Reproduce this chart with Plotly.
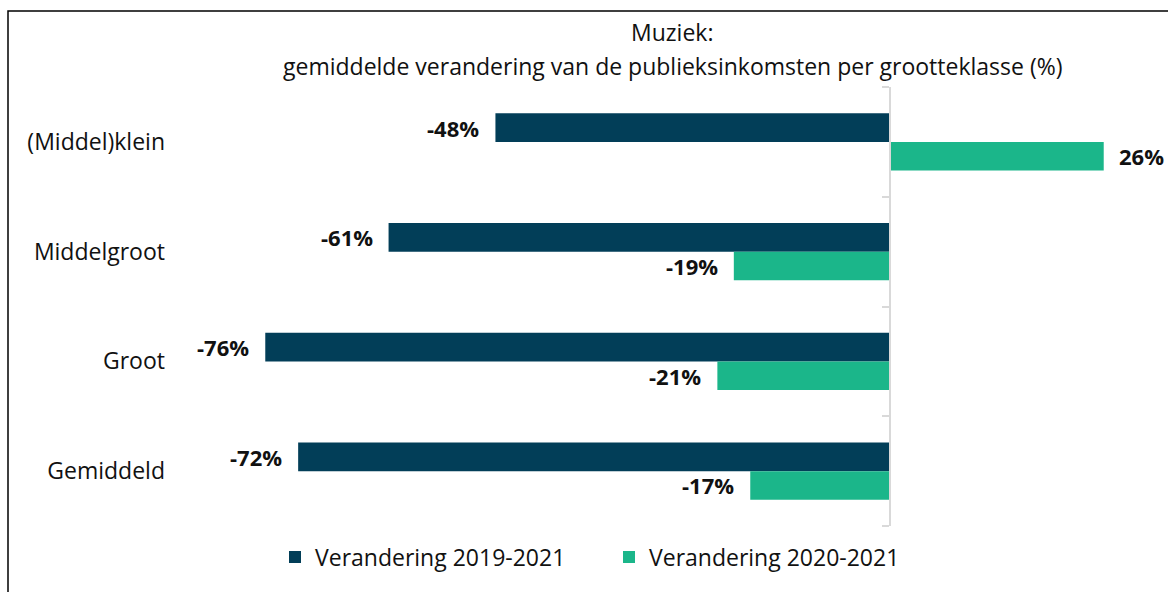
import plotly.graph_objects as go

# Size classes (top to bottom) and the two change series, in %
categories = ["(Middel)klein", "Middelgroot", "Groot", "Gemiddeld"]
change_2019_2021 = [-48, -61, -76, -72]
change_2020_2021 = [26, -19, -21, -17]
series_names = ["Verandering 2019-2021", "Verandering 2020-2021"]
title_lines = ["Muziek:", "gemiddelde verandering van de publieksinkomsten per grootteklasse (%)"]

NAVY = "#023E58"
GREEN = "#1BB68A"
AXIS_GREY = "#D9D9D9"
TEXT = "#111111"
FONT = "Open Sans"

W, H = 1168, 592
M_L, M_R, M_T, M_B = 176, 0, 87, 66
X_RANGE = [-86.86, 33.82]

fig = go.Figure()
for name, vals, color in [
    (series_names[0], change_2019_2021, NAVY),
    (series_names[1], change_2020_2021, GREEN),
]:
    fig.add_trace(go.Bar(
        y=categories, x=vals, name=name, orientation="h",
        marker=dict(color=color, line=dict(width=0)),
        hoverinfo="x+y",
    ))

# value labels just beyond the end of each bar
plot_h = H - M_T - M_B
bar_px = plot_h / len(categories) * (1 - 0.48) / 2
annotations = []
for vals, shift in [(change_2019_2021, bar_px / 2), (change_2020_2021, -bar_px / 2)]:
    for cat, v in zip(categories, vals):
        annotations.append(dict(
            x=v, y=cat, xref="x", yref="y", text=f"<b>{v}%</b>", showarrow=False,
            xanchor="right" if v < 0 else "left", xshift=-14 if v < 0 else 13,
            yshift=shift, yanchor="middle",
            font=dict(family=FONT, size=22, color=TEXT),
        ))

# two-line heading
for txt, ypix in [(title_lines[0], 32), (title_lines[1], 66)]:
    annotations.append(dict(
        x=0.5, y=(H - M_B - ypix) / plot_h, xref="paper", yref="paper",
        text=txt, showarrow=False, xanchor="center", yanchor="middle",
        font=dict(family=FONT, size=23, color=TEXT),
    ))

plot_w = W - M_L - M_R
zero_frac = (0 - X_RANGE[0]) / (X_RANGE[1] - X_RANGE[0])

fig.update_layout(
    width=W, height=H,
    margin=dict(l=M_L, r=M_R, t=M_T, b=M_B),
    paper_bgcolor="white", plot_bgcolor="white",
    barmode="group", bargap=0.48, bargroupgap=0,
    font=dict(family=FONT, size=23, color=TEXT),
    showlegend=True,
    legend=dict(
        orientation="h", x=(295 - 20 - M_L) / plot_w, y=-0.0706,
        xanchor="left", yanchor="middle",
        entrywidth=289, entrywidthmode="pixels",
        font=dict(family=FONT, size=23, color=TEXT), traceorder="normal",
        itemclick=False, itemdoubleclick=False,
    ),
    xaxis=dict(
        range=X_RANGE, showgrid=False, zeroline=False, showticklabels=False,
        ticks="", showline=False, fixedrange=True,
    ),
    yaxis=dict(
        categoryorder="array", categoryarray=categories, autorange="reversed",
        showgrid=False, zeroline=False, showline=False, ticks="",
        ticklabelstandoff=10, tickfont=dict(family=FONT, size=23, color=TEXT),
        fixedrange=True,
    ),
    # vertical axis line at zero with boundary ticks
    yaxis2=dict(
        overlaying="y", anchor="free", position=zero_frac, side="left",
        range=[3.5, -0.5], tickvals=[-0.5, 0.5, 1.5, 2.5, 3.5],
        showticklabels=False, ticks="outside", ticklen=7, tickwidth=2,
        tickcolor=AXIS_GREY, showline=True, linecolor=AXIS_GREY, linewidth=2,
        showgrid=False, zeroline=False, fixedrange=True,
    ),
    annotations=annotations,
    shapes=[dict(
        type="rect", xref="paper", yref="paper",
        x0=(8 - M_L) / plot_w, x1=(W + 4 - M_L) / plot_w,
        y0=(H - M_B - (H + 4)) / plot_h, y1=(H - M_B - 11) / plot_h,
        line=dict(color="black", width=1.5), fillcolor="rgba(0,0,0,0)", layer="above",
    )],
)

# invisible carrier so the zero-line axis is drawn
fig.add_trace(go.Scatter(x=[0], y=[0], yaxis="y2", mode="markers",
                         marker=dict(opacity=0), showlegend=False, hoverinfo="skip"))

fig.write_html("out.html", config={"displayModeBar": False})
